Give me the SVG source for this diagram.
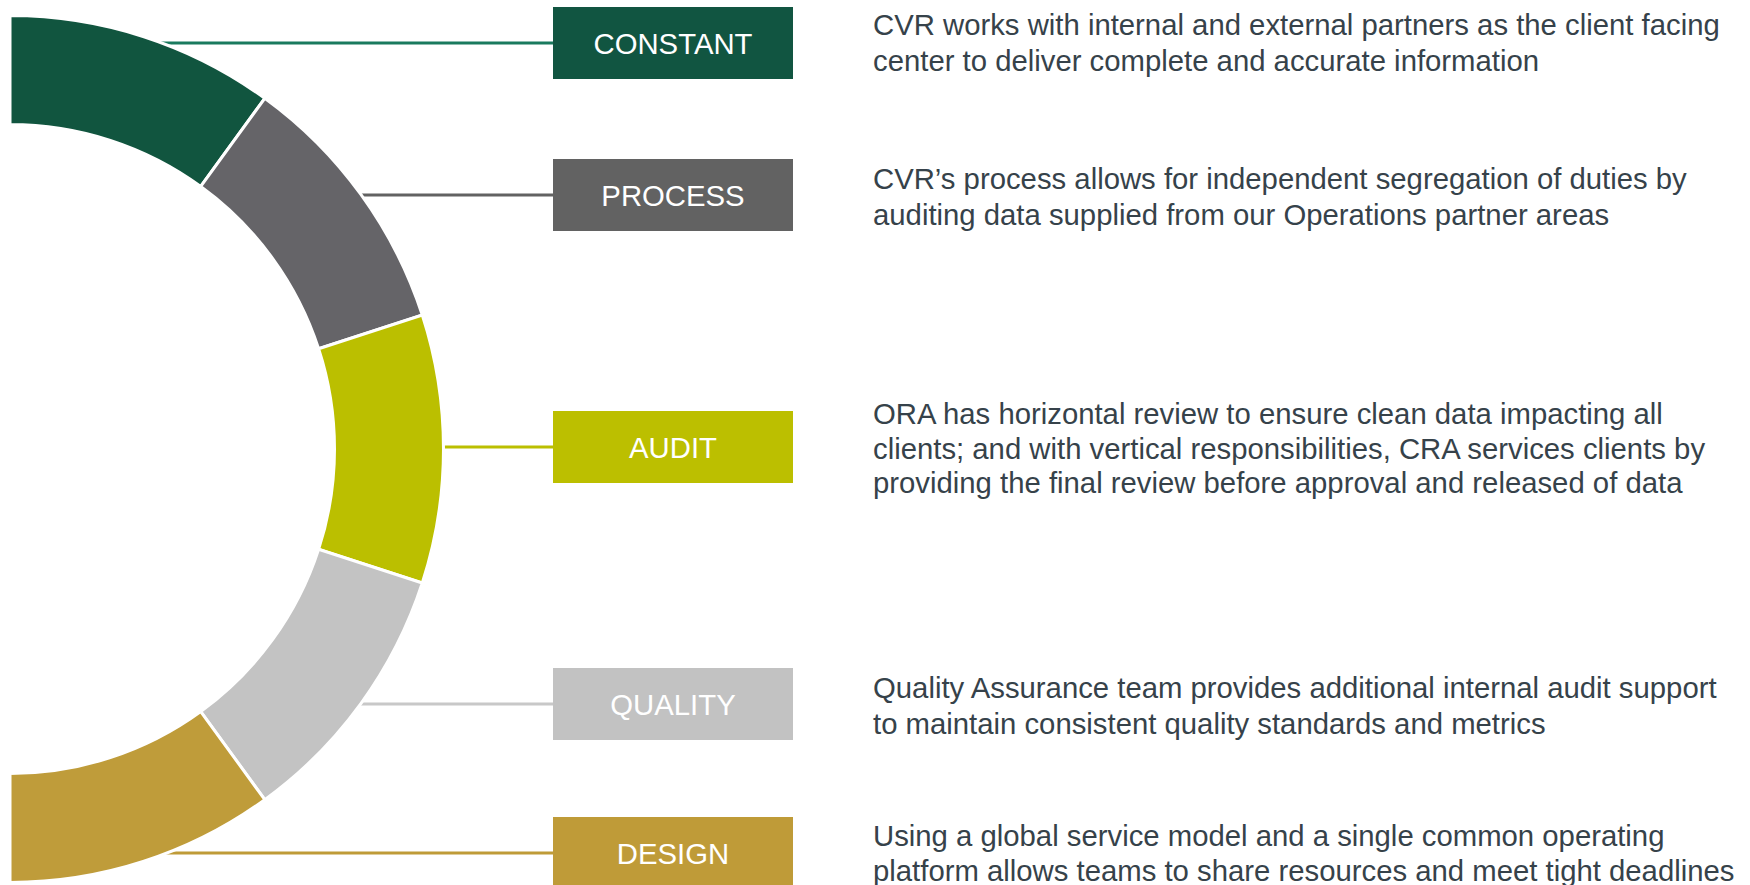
<svg xmlns="http://www.w3.org/2000/svg" width="1750" height="885" viewBox="0 0 1750 885">
<style>
.seg{stroke:#ffffff;stroke-width:3;stroke-linejoin:miter}
.lbl{font-family:"Liberation Sans",Arial,sans-serif;font-size:29.3px;fill:#ffffff;text-anchor:middle}
.desc{font-family:"Liberation Sans",Arial,sans-serif;font-size:29.3px;fill:#36424A}
.conn{stroke-width:3;fill:none}
</style>
<rect width="1750" height="885" fill="#ffffff"/>
<g id="connectors">
<line class="conn" x1="150" y1="43" x2="553" y2="43" stroke="#1A7A5E"/>
<line class="conn" x1="350" y1="195" x2="553" y2="195" stroke="#626262"/>
<line class="conn" x1="430" y1="447" x2="553" y2="447" stroke="#BBBF00"/>
<line class="conn" x1="350" y1="704" x2="553" y2="704" stroke="#C8C8C8"/>
<line class="conn" x1="155" y1="853" x2="553" y2="853" stroke="#BF9B38"/>
</g>
<g id="ring">
<path class="seg" fill="#11553F" d="M10 15.5 A433.5 433.5 0 0 1 264.8 98.29 L200.74 186.47 A324.5 324.5 0 0 0 10 124.5 Z"/>
<path class="seg" fill="#656468" d="M264.8 98.29 A433.5 433.5 0 0 1 422.28 315.04 L318.62 348.72 A324.5 324.5 0 0 0 200.74 186.47 Z"/>
<path class="seg" fill="#BBBF00" d="M422.28 315.04 A433.5 433.5 0 0 1 422.28 582.96 L318.62 549.28 A324.5 324.5 0 0 0 318.62 348.72 Z"/>
<path class="seg" fill="#C3C3C3" d="M422.28 582.96 A433.5 433.5 0 0 1 264.8 799.71 L200.74 711.53 A324.5 324.5 0 0 0 318.62 549.28 Z"/>
<path class="seg" fill="#BF9C3A" d="M264.8 799.71 A433.5 433.5 0 0 1 10 882.5 L10 773.5 A324.5 324.5 0 0 0 200.74 711.53 Z"/>
</g>
<g id="constant">
<rect x="553" y="7" width="240" height="72" fill="#115541"/>
<text class="lbl" x="673" y="53.5">CONSTANT</text>
<text class="desc"><tspan x="873" y="35">CVR works with internal and external partners as the client facing</tspan><tspan x="873" y="70.5">center to deliver complete and accurate information</tspan></text>
</g>
<g id="process">
<rect x="553" y="159" width="240" height="72" fill="#626262"/>
<text class="lbl" x="673" y="205.5">PROCESS</text>
<text class="desc"><tspan x="873" y="189">CVR’s process allows for independent segregation of duties by</tspan><tspan x="873" y="224.5">auditing data supplied from our Operations partner areas</tspan></text>
</g>
<g id="audit">
<rect x="553" y="411" width="240" height="72" fill="#BCBF00"/>
<text class="lbl" x="673" y="457.5">AUDIT</text>
<text class="desc"><tspan x="873" y="424">ORA has horizontal review to ensure clean data impacting all</tspan><tspan x="873" y="458.5">clients; and with vertical responsibilities, CRA services clients by</tspan><tspan x="873" y="493">providing the final review before approval and released of data</tspan></text>
</g>
<g id="quality">
<rect x="553" y="668" width="240" height="72" fill="#C2C2C2"/>
<text class="lbl" x="673" y="714.5">QUALITY</text>
<text class="desc"><tspan x="873" y="698">Quality Assurance team provides additional internal audit support</tspan><tspan x="873" y="733.5">to maintain consistent quality standards and metrics</tspan></text>
</g>
<g id="design">
<rect x="553" y="817" width="240" height="72" fill="#BF9B38"/>
<text class="lbl" x="673" y="863.5">DESIGN</text>
<text class="desc"><tspan x="873" y="846">Using a global service model and a single common operating</tspan><tspan x="873" y="880.5">platform allows teams to share resources and meet tight deadlines</tspan></text>
</g>
</svg>
